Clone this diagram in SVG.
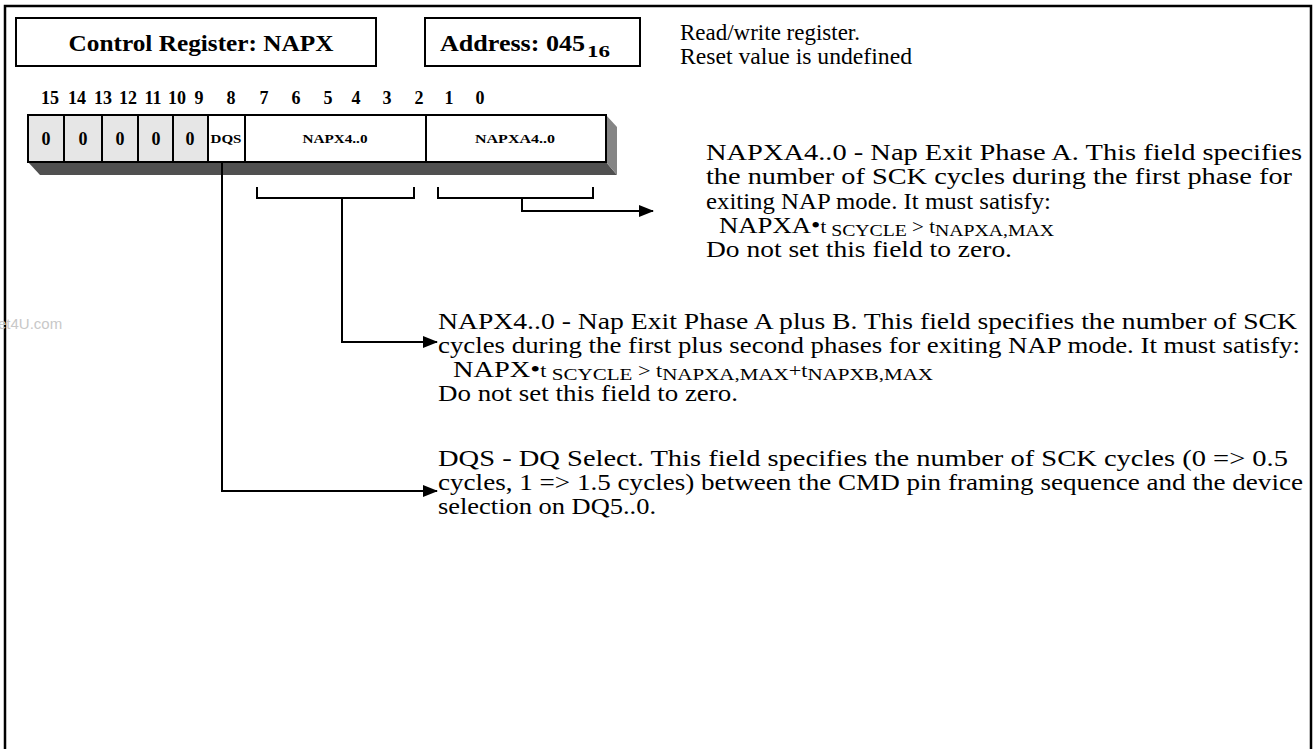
<svg xmlns="http://www.w3.org/2000/svg" width="1316" height="749" viewBox="0 0 1316 749">
<defs>
<style>
.b{font-family:"Liberation Serif","Times New Roman",serif;font-weight:bold;fill:#000}
.t{font-family:"Liberation Serif","Times New Roman",serif;font-size:23px;fill:#000}
.bit{font-size:18px;text-anchor:middle}
.cell{stroke:#000;stroke-width:2}
.ln{fill:none;stroke:#000;stroke-width:2}
.sm{font-size:18px}
.sub{font-size:17px}
</style>
<marker id="ah" markerWidth="15" markerHeight="12" refX="14" refY="6" orient="auto" markerUnits="userSpaceOnUse">
<path d="M0,0 L15,6 L0,12 Z" fill="#000"/>
</marker>
</defs>
<rect width="1316" height="749" fill="#fff"/>
<path d="M5,749 V6 H1311 V749" fill="none" stroke="#000" stroke-width="2.5"/>
<text x="-2" y="329" font-family="Liberation Sans,Arial,sans-serif" font-size="15" fill="#c8c8c8">et4U.com</text>

<g id="title">
<rect x="16" y="18" width="360" height="48" fill="#fff" stroke="#000" stroke-width="2"/>
<text class="b" x="201" y="51" font-size="24" text-anchor="middle" textLength="265" lengthAdjust="spacingAndGlyphs">Control Register: NAPX</text>
</g>
<g id="address">
<rect x="425" y="18" width="215" height="48" fill="#fff" stroke="#000" stroke-width="2"/>
<text class="b" x="440" y="51" font-size="24" textLength="145" lengthAdjust="spacingAndGlyphs">Address: 045</text>
<text class="b" x="587" y="57" font-size="16" textLength="23" lengthAdjust="spacingAndGlyphs">16</text>
</g>

<g id="bits" class="b bit">
<text x="50" y="104">15</text>
<text x="77" y="104">14</text>
<text x="103" y="104">13</text>
<text x="128" y="104">12</text>
<text x="153" y="104">11</text>
<text x="177" y="104">10</text>
<text x="199" y="104">9</text>
<text x="231" y="104">8</text>
<text x="264" y="104">7</text>
<text x="296" y="104">6</text>
<text x="328" y="104">5</text>
<text x="356" y="104">4</text>
<text x="387" y="104">3</text>
<text x="419" y="104">2</text>
<text x="449" y="104">1</text>
<text x="480" y="104">0</text>
</g>

<g id="register">
<polygon points="28,162 606,162 617,175 40,175" fill="#505050"/>
<polygon points="606,115 617,127 617,175 606,162" fill="#858585"/>
<rect class="cell" x="28" y="115" width="36" height="47" fill="#e6e6e6"/>
<rect class="cell" x="64" y="115" width="38" height="47" fill="#e6e6e6"/>
<rect class="cell" x="102" y="115" width="36" height="47" fill="#e6e6e6"/>
<rect class="cell" x="138" y="115" width="35" height="47" fill="#e6e6e6"/>
<rect class="cell" x="173" y="115" width="35" height="47" fill="#e6e6e6"/>
<rect class="cell" x="208" y="115" width="37" height="47" fill="#fff"/>
<rect class="cell" x="245" y="115" width="181" height="47" fill="#fff"/>
<rect class="cell" x="426" y="115" width="180" height="47" fill="#fff"/>
<g class="b" font-size="18" text-anchor="middle">
<text x="46" y="145">0</text><text x="83" y="145">0</text><text x="120" y="145">0</text><text x="156" y="145">0</text><text x="190" y="145">0</text>
</g>
<g class="b" font-size="13" text-anchor="middle">
<text x="226" y="143" textLength="31" lengthAdjust="spacingAndGlyphs">DQS</text>
<text x="335" y="143" textLength="65" lengthAdjust="spacingAndGlyphs">NAPX4..0</text>
<text x="515" y="143" textLength="80" lengthAdjust="spacingAndGlyphs">NAPXA4..0</text>
</g>
</g>

<g id="connectors">
<path class="ln" d="M257,187 V198 H414 V187"/>
<path class="ln" d="M438,187 V198 H593 V187"/>
<path class="ln" d="M522,198 V211 H653" marker-end="url(#ah)"/>
<path class="ln" d="M342,198 V342 H437" marker-end="url(#ah)"/>
<path class="ln" d="M222,162 V491 H437" marker-end="url(#ah)"/>
</g>

<g id="header-text" class="t">
<text x="680" y="40" textLength="180" lengthAdjust="spacingAndGlyphs">Read/write register.</text>
<text x="680" y="64" textLength="232" lengthAdjust="spacingAndGlyphs">Reset value is undefined</text>
</g>

<g id="napxa-desc" class="t">
<text x="706" y="160" textLength="596" lengthAdjust="spacingAndGlyphs">NAPXA4..0 - Nap Exit Phase A. This field specifies</text>
<text x="706" y="184" textLength="586" lengthAdjust="spacingAndGlyphs">the number of SCK cycles during the first phase for</text>
<text x="706" y="209" textLength="345" lengthAdjust="spacingAndGlyphs">exiting NAP mode. It must satisfy:</text>
<text x="719" y="233" textLength="335" lengthAdjust="spacingAndGlyphs">NAPXA•<tspan class="sm">t</tspan><tspan class="sub" dy="3"> SCYCLE</tspan><tspan class="sm" dy="-3"> &gt; t</tspan><tspan class="sub" dy="3">NAPXA,MAX</tspan></text>
<text x="706" y="257" textLength="306" lengthAdjust="spacingAndGlyphs">Do not set this field to zero.</text>
</g>

<g id="napx-desc" class="t">
<text x="438" y="329" textLength="859" lengthAdjust="spacingAndGlyphs">NAPX4..0 - Nap Exit Phase A plus B. This field specifies the number of SCK</text>
<text x="438" y="353" textLength="862" lengthAdjust="spacingAndGlyphs">cycles during the first plus second phases for exiting NAP mode. It must satisfy:</text>
<text x="453" y="377" textLength="480" lengthAdjust="spacingAndGlyphs">NAPX•<tspan class="sm">t</tspan><tspan class="sub" dy="3"> SCYCLE</tspan><tspan class="sm" dy="-3"> &gt; t</tspan><tspan class="sub" dy="3">NAPXA,MAX</tspan><tspan class="sm" dy="-3">+t</tspan><tspan class="sub" dy="3">NAPXB,MAX</tspan></text>
<text x="438" y="401" textLength="300" lengthAdjust="spacingAndGlyphs">Do not set this field to zero.</text>
</g>

<g id="dqs-desc" class="t">
<text x="438" y="466" textLength="850" lengthAdjust="spacingAndGlyphs">DQS - DQ Select. This field specifies the number of SCK cycles (0 =&gt; 0.5</text>
<text x="438" y="490" textLength="865" lengthAdjust="spacingAndGlyphs">cycles, 1 =&gt; 1.5 cycles) between the CMD pin framing sequence and the device</text>
<text x="438" y="514" textLength="218" lengthAdjust="spacingAndGlyphs">selection on DQ5..0.</text>
</g>
</svg>
